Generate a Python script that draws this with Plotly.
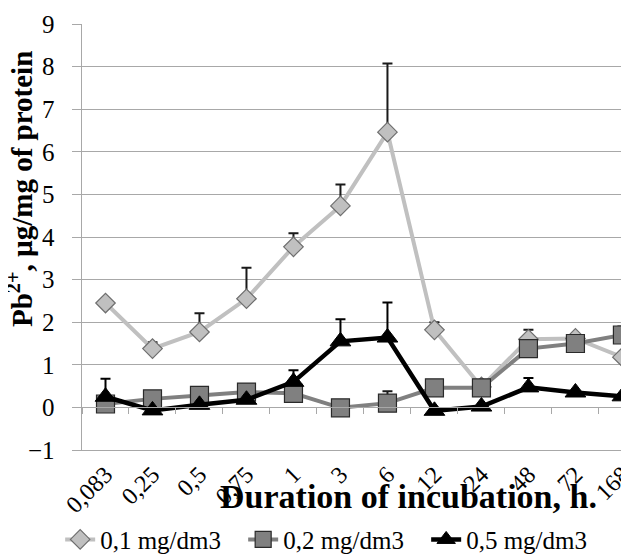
import plotly.graph_objects as go

categories = ["0,083", "0,25", "0,5", "0,75", "1", "3", "6", "12", "24", "48", "72", "168"]

s1_name = "0,1 mg/dm3"
s1_values = [2.45, 1.38, 1.77, 2.55, 3.77, 4.73, 6.46, 1.82, 0.48, 1.60, 1.62, 1.18]
s1_err = [0.0, 0.15, 0.44, 0.73, 0.32, 0.50, 1.61, 0.18, 0.0, 0.22, 0.0, 0.0]

s2_name = "0,2 mg/dm3"
s2_values = [0.08, 0.20, 0.28, 0.36, 0.33, -0.01, 0.10, 0.46, 0.46, 1.38, 1.50, 1.70]
s2_err = [0.0, 0.0, 0.0, 0.0, 0.0, 0.0, 0.28, 0.0, 0.0, 0.0, 0.0, 0.20]

s3_name = "0,5 mg/dm3"
s3_values = [0.25, -0.07, 0.06, 0.18, 0.60, 1.55, 1.64, -0.08, 0.02, 0.47, 0.35, 0.26]
s3_err = [0.42, 0.0, 0.0, 0.0, 0.27, 0.52, 0.82, 0.0, 0.0, 0.22, 0.0, 0.0]

FONT = "Liberation Serif"
GRID = "#a8a8a8"
XR = [-0.5, 11.14]

fig = go.Figure()

fig.add_trace(go.Scatter(
    x=categories, y=s1_values, name=s1_name, mode="lines+markers",
    line=dict(color="#c0c0c0", width=4),
    marker=dict(symbol="diamond", size=15, color="#c0c0c0",
                line=dict(color="#6e6e6e", width=1.2)),
    error_y=dict(type="data", array=s1_err, symmetric=False,
                 arrayminus=[0] * len(s1_err), color="#1a1a1a",
                 thickness=2, width=5),
))
fig.add_trace(go.Scatter(
    x=categories, y=s2_values, name=s2_name, mode="lines+markers",
    line=dict(color="#808080", width=4),
    marker=dict(symbol="square", size=18, color="#808080",
                line=dict(color="#2a2a2a", width=1.2)),
    error_y=dict(type="data", array=s2_err, symmetric=False,
                 arrayminus=[0] * len(s2_err), color="#1a1a1a",
                 thickness=2, width=5),
))
fig.add_trace(go.Scatter(
    x=categories, y=s3_values, name=s3_name, mode="lines+markers",
    line=dict(color="#000000", width=4.5),
    marker=dict(symbol="triangle-up", size=18, color="#000000",
                line=dict(color="#000000", width=1)),
    error_y=dict(type="data", array=s3_err, symmetric=False,
                 arrayminus=[0] * len(s3_err), color="#000000",
                 thickness=2, width=5),
))
# invisible helper trace carrying the category axis drawn at y = 0
fig.add_trace(go.Scatter(
    x=categories, y=s1_values, xaxis="x2", mode="markers",
    marker=dict(opacity=0), showlegend=False, hoverinfo="skip",
))

fig.update_layout(
    width=621, height=547,
    paper_bgcolor="white", plot_bgcolor="white",
    margin=dict(l=74, r=0, t=16, b=105),
    font=dict(family=FONT, color="black"),
    showlegend=True,
    legend=dict(
        orientation="h", xref="container", yref="container",
        x=0.084, xanchor="left", y=0.028, yanchor="middle",
        font=dict(family=FONT, size=25, color="black"),
        entrywidth=138, entrywidthmode="pixels",
        bgcolor="rgba(0,0,0,0)", tracegroupgap=0,
    ),
    xaxis=dict(
        type="category", range=XR, showgrid=False, zeroline=False,
        showline=True, linecolor=GRID, linewidth=1, ticks="",
        tickangle=-45, tickfont=dict(family=FONT, size=24, color="black"),
        automargin=False,
    ),
    xaxis2=dict(
        type="category", overlaying="x", anchor="free", position=0.1,
        range=XR, showgrid=False, zeroline=False, showline=True,
        linecolor=GRID, linewidth=1, ticks="outside", tickson="boundaries",
        ticklen=6, tickcolor=GRID, showticklabels=False, automargin=False,
    ),
    yaxis=dict(
        range=[-1, 9], tick0=0, dtick=1, showgrid=True, gridcolor=GRID,
        gridwidth=1, zeroline=False, showline=True, linecolor=GRID,
        linewidth=1, ticks="outside", ticklen=9, tickcolor=GRID,
        tickfont=dict(family=FONT, size=25, color="black"),
        ticksuffix="\u2002", automargin=False,
    ),
    annotations=[
        dict(text="<b>Pb<sup>2+</sup>, µg/mg of protein</b>", textangle=-90,
             xref="paper", yref="paper", x=-0.113, y=0.613,
             xanchor="center", yanchor="middle", showarrow=False,
             font=dict(family=FONT, size=29, color="black")),
        dict(text="<b>Duration of incubation, h.</b>",
             xref="paper", yref="paper", x=0.596, y=-0.11,
             xanchor="center", yanchor="middle", showarrow=False,
             font=dict(family=FONT, size=34, color="black")),
    ],
)

fig.write_html("out.html")
